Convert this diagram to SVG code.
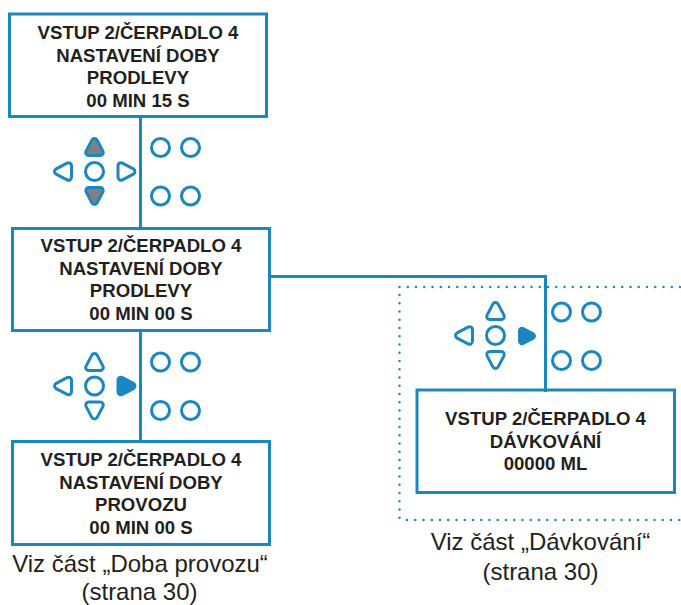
<svg xmlns="http://www.w3.org/2000/svg" width="681" height="605" viewBox="0 0 681 605">
<style>
.box{fill:#fff;stroke:#1b87c1;stroke-width:3}
.c{fill:none;stroke:#1b87c1;stroke-width:3}
.k{fill:none;stroke:#1b87c1;stroke-width:3}
.g{fill:#808080;stroke:#1b87c1;stroke-width:3}
.s{fill:#1b87c1;stroke:#1b87c1;stroke-width:3}
.d{fill:none;stroke:#1b87c1;stroke-width:2.5;stroke-linecap:round;stroke-dasharray:0 8.25}
text{font-family:"Liberation Sans",Arial,sans-serif;text-anchor:middle}
.b{font-size:18.6px;font-weight:700;fill:#231f20}
.n{font-size:24px;fill:#231f20}
</style>
<defs>
<path id="t" d="M2.650-6.900L8.450 4.100A3 3 0 0 1 5.800 8.500H-5.800A3 3 0 0 1-8.450 4.100L-2.650-6.900A3 3 0 0 1 2.650-6.900Z"/>
<g id="circles" class="k"><circle cx="0" cy="0" r="9"/><circle cx="30" cy="0" r="9"/><circle cx="0" cy="48.5" r="9"/><circle cx="30" cy="48.500" r="9"/></g>
</defs>
<g id="connectors">
<path class="d" d="M399.500 287H681M399.500 295V520M407 520H681"/>
</g>
<g id="node-1"><rect class="box" x="9.500" y="14" width="257" height="102.500"/>
<text class="b" x="138" y="39">VSTUP 2/ČERPADLO 4</text><text class="b" x="138" y="61.500">NASTAVENÍ DOBY</text><text class="b" x="138" y="84">PRODLEVY</text><text class="b" x="138" y="106.500">00 MIN 15 S</text></g>
<g id="keypad-1">
<use href="#t" class="g" transform="translate(94.500 147)"/><use href="#t" class="g" transform="translate(94.500 196) rotate(180)"/>
<use href="#t" class="k" transform="translate(63 171.500) rotate(-90)"/><use href="#t" class="k" transform="translate(126.500 171.500) rotate(90)"/>
<circle class="k" cx="94.500" cy="171.500" r="9"/><use href="#circles" x="160.500" y="147.500"/></g>
<g id="node-2"><rect class="box" x="12.500" y="228.500" width="257" height="102"/>
<text class="b" x="141" y="251.500">VSTUP 2/ČERPADLO 4</text><text class="b" x="141" y="274.500">NASTAVENÍ DOBY</text><text class="b" x="141" y="297">PRODLEVY</text><text class="b" x="141" y="320">00 MIN 00 S</text></g>
<g id="keypad-2">
<use href="#t" class="k" transform="translate(94.500 362)"/><use href="#t" class="k" transform="translate(94.500 410.500) rotate(180)"/>
<use href="#t" class="k" transform="translate(63 386) rotate(-90)"/><use href="#t" class="s" transform="translate(126.500 386) rotate(90)"/>
<circle class="k" cx="94.500" cy="386" r="9"/><use href="#circles" x="160.500" y="362"/></g>
<g id="node-3"><rect class="box" x="12.500" y="441.500" width="257" height="103"/>
<text class="b" x="141" y="466">VSTUP 2/ČERPADLO 4</text><text class="b" x="141" y="488.500">NASTAVENÍ DOBY</text><text class="b" x="141" y="511">PROVOZU</text><text class="b" x="141" y="534">00 MIN 00 S</text></g>
<g id="keypad-3">
<use href="#t" class="k" transform="translate(495.500 311)"/><use href="#t" class="k" transform="translate(495.500 360) rotate(180)"/>
<use href="#t" class="k" transform="translate(464 335.500) rotate(-90)"/><use href="#t" class="s" transform="translate(527 336) rotate(90) scale(.9)"/>
<circle class="k" cx="495.500" cy="335.500" r="9"/><use href="#circles" x="561.500" y="312"/></g>
<g id="node-4"><rect class="box" x="417" y="390" width="257.500" height="102.500"/>
<text class="b" x="545.500" y="425">VSTUP 2/ČERPADLO 4</text><text class="b" x="545.500" y="448">DÁVKOVÁNÍ</text><text class="b" x="545.500" y="470">00000 ML</text></g>
<g id="connectors-solid">
<path class="c" d="M140.500 117V228M140.500 331V441M270 276.500H545.500V392"/>
</g>
<g id="note-1"><text class="n" x="140" y="571.500">Viz část „Doba provozu“</text><text class="n" x="139.500" y="600">(strana 30)</text></g>
<g id="note-2"><text class="n" x="540.500" y="550">Viz část „Dávkování“</text><text class="n" x="540.500" y="579.500">(strana 30)</text></g>
</svg>
